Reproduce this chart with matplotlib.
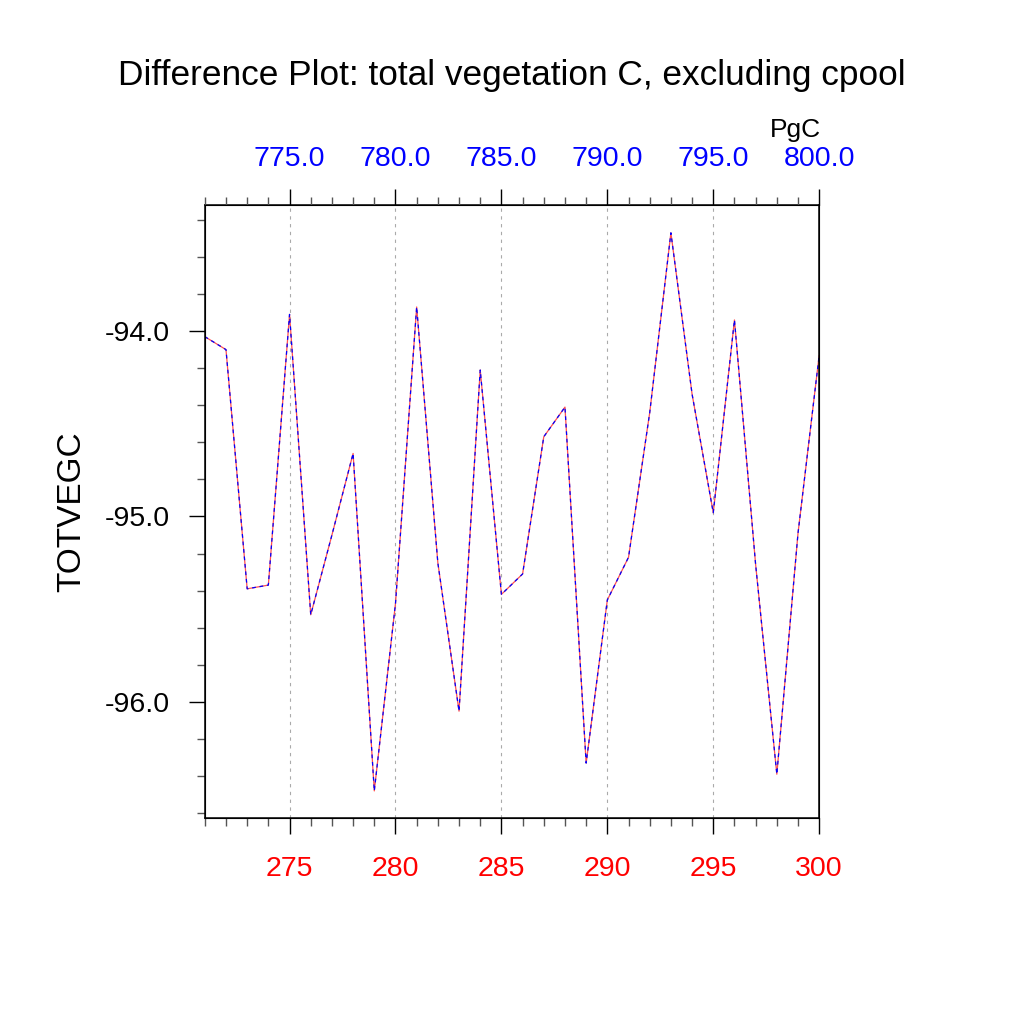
import matplotlib
matplotlib.use("Agg")
from matplotlib import pyplot as plt
from matplotlib.ticker import MultipleLocator, FormatStrFormatter

plt.rcParams['font.family'] = ['Liberation Sans', 'DejaVu Sans']

# model years on the bottom axis, matching years on the top axis
years = list(range(271, 301))
top_years = [y + 500 for y in years]

# TOTVEGC difference (PgC), two cases drawn on top of each other
totvegc = [-94.03, -94.10, -95.39, -95.37, -93.91, -95.53, -95.10, -94.66,
           -96.48, -95.47, -93.87, -95.25, -96.05, -94.21, -95.42, -95.31,
           -94.57, -94.41, -96.33, -95.45, -95.22, -94.44, -93.47, -94.34,
           -94.98, -93.94, -95.26, -96.39, -95.09, -94.13]
totvegc_2 = list(totvegc)

bottom_ticks = [275, 280, 285, 290, 295, 300]
top_ticks = [775, 780, 785, 790, 795, 800]
y_ticks = [-94.0, -95.0, -96.0]

fig = plt.figure(figsize=(10.24, 10.24), dpi=100)
ax = fig.add_axes([0.2, 0.2012, 0.6, 0.5986])

ax.plot(years, totvegc, color='#ff5050', lw=0.9, solid_capstyle='butt')
ax.plot(years, totvegc_2, color='blue', lw=0.9, dashes=(3, 3))

ax.set_xlim(271, 300)
ax.set_ylim(-96.626, -93.32)

for x in bottom_ticks[:-1]:
    ax.axvline(x, color='#aaaaaa', lw=0.8, dashes=(3, 4), zorder=0)

ax.set_xticks(bottom_ticks)
ax.xaxis.set_minor_locator(MultipleLocator(1))
ax.set_yticks(y_ticks)
ax.yaxis.set_minor_locator(MultipleLocator(0.2))
ax.yaxis.set_major_formatter(FormatStrFormatter('%.1f'))

ax.tick_params(axis='both', which='both', direction='out', width=1.0, color='black')
ax.tick_params(axis='both', which='major', length=11.5, pad=14, labelsize=20.5)
ax.tick_params(axis='x', which='major', pad=16)
ax.tick_params(axis='both', which='minor', length=5.8, color='#555555')
ax.tick_params(axis='x', labelcolor='red')
ax.tick_params(right=False, which='both')

for s in ax.spines.values():
    s.set_linewidth(1.1)

ax.set_ylabel('TOTVEGC', fontsize=24, labelpad=12)

# top axis with the shifted years
ax2 = ax.twiny()
ax2.set_xlim(top_years[0], top_years[-1])
ax2.set_xticks(top_ticks)
ax2.xaxis.set_minor_locator(MultipleLocator(1))
ax2.xaxis.set_major_formatter(FormatStrFormatter('%.1f'))
ax2.tick_params(axis='x', which='both', direction='out', width=1.0)
ax2.tick_params(axis='x', which='major', length=11.5, pad=12, labelsize=20.5, labelcolor='blue')
ax2.tick_params(axis='x', which='minor', length=5.8, color='#555555')

fig.text(0.5, 1 - 75 / 1024, 'Difference Plot: total vegetation C, excluding cpool',
         ha='center', va='center', fontsize=25.4)
fig.text(795 / 1024, 1 - 130 / 1024, 'PgC', ha='center', va='center', fontsize=19)

fig.savefig('out.png', dpi=100)
